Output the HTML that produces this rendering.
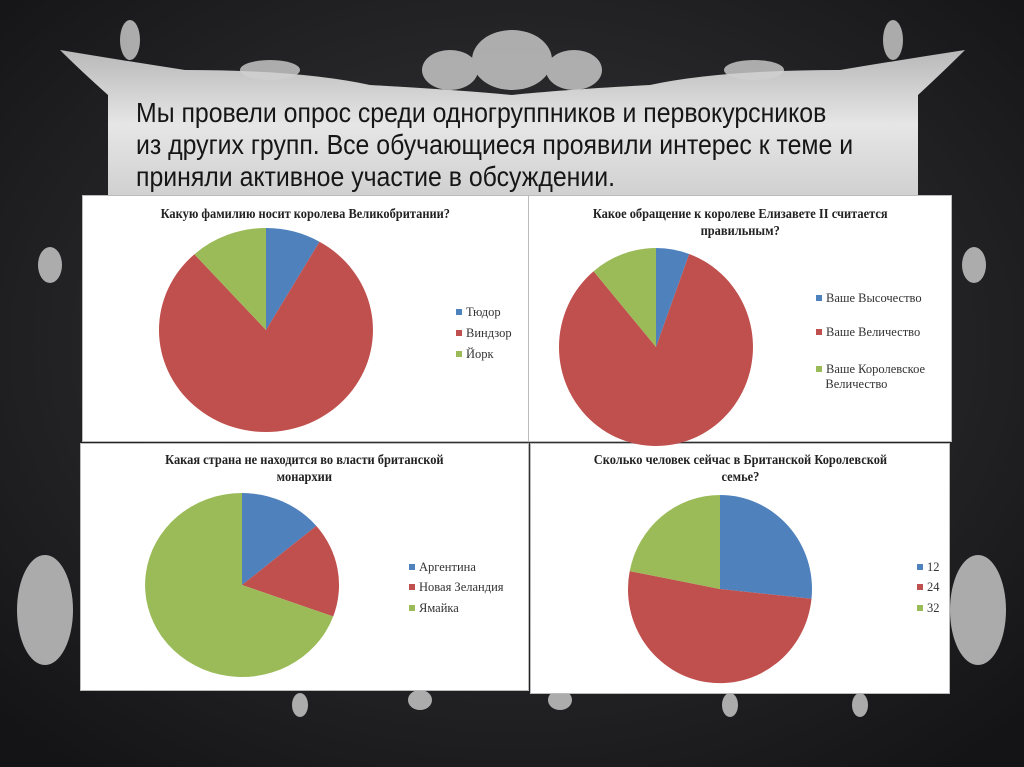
<!DOCTYPE html>
<html><head><meta charset="utf-8"><style>
html,body{margin:0;padding:0;}
body{width:1024px;height:767px;overflow:hidden;background:#1c1c1e;position:relative;font-family:"Liberation Serif",serif;}
.bg{position:absolute;left:0;top:0;}
.txt{position:absolute;left:136px;top:97px;font-family:"Liberation Sans",sans-serif;font-size:28px;line-height:32px;color:#161616;white-space:nowrap;transform:scaleX(0.887);transform-origin:0 0;}
.panel{position:absolute;background:#fff;border:1px solid #bbb;box-sizing:border-box;}
.title{position:absolute;left:0;right:0;text-align:center;font-weight:bold;font-size:13.5px;line-height:17px;color:#222;}
.title span{display:inline-block;transform:scaleX(0.92);}
.leg{position:absolute;font-size:12.5px;color:#333;line-height:15px;}
.leg i{display:inline-block;width:6px;height:6px;margin-right:4px;vertical-align:1px;}
</style></head><body>
<svg class="bg" width="1024" height="767">
<defs>
<radialGradient id="bgg" cx="50%" cy="45%" r="70%"><stop offset="0" stop-color="#3a3a3e"/><stop offset="1" stop-color="#141416"/></radialGradient>
<linearGradient id="fr" x1="0" y1="0" x2="0" y2="1"><stop offset="0" stop-color="#b8b8b8"/><stop offset="0.5" stop-color="#e6e6e6"/><stop offset="1" stop-color="#cfcfcf"/></linearGradient>
</defs>
<rect width="1024" height="767" fill="url(#bgg)"/>
<path d="M60 50 Q80 70 108 95 L108 200 L918 200 L918 95 Q945 70 965 50 Q900 60 840 70 Q720 70 650 85 Q560 90 512 95 Q460 90 370 85 Q300 70 185 70 Q120 60 60 50 Z" fill="url(#fr)"/>
<g fill="#d0d0d0" opacity="0.8">
<ellipse cx="512" cy="60" rx="40" ry="30"/><ellipse cx="450" cy="70" rx="28" ry="20"/><ellipse cx="574" cy="70" rx="28" ry="20"/>
<ellipse cx="270" cy="70" rx="30" ry="10"/><ellipse cx="754" cy="70" rx="30" ry="10"/>
<ellipse cx="130" cy="40" rx="10" ry="20"/><ellipse cx="893" cy="40" rx="10" ry="20"/>
<ellipse cx="45" cy="610" rx="28" ry="55"/><ellipse cx="978" cy="610" rx="28" ry="55"/>
<ellipse cx="50" cy="265" rx="12" ry="18"/><ellipse cx="974" cy="265" rx="12" ry="18"/>
<ellipse cx="300" cy="705" rx="8" ry="12"/><ellipse cx="420" cy="700" rx="12" ry="10"/><ellipse cx="560" cy="700" rx="12" ry="10"/><ellipse cx="730" cy="705" rx="8" ry="12"/><ellipse cx="860" cy="705" rx="8" ry="12"/>
</g>
</svg>
<div class="txt">Мы провели опрос среди одногруппников и первокурсников<br>из других групп. Все обучающиеся проявили интерес к теме и<br>приняли активное участие в обсуждении.</div>

<div class="panel" style="left:82px;top:195px;width:447px;height:247px;">
<div class="title" style="top:9px;"><span>Какую фамилию носит королева Великобритании?</span></div>
<div class="leg" style="left:373px;top:109px;"><i style="background:#4f81bd"></i>Тюдор</div>
<div class="leg" style="left:373px;top:130px;"><i style="background:#c0504d"></i>Виндзор</div>
<div class="leg" style="left:373px;top:151px;"><i style="background:#9bbb59"></i>Йорк</div>
</div>
<div class="panel" style="left:528px;top:195px;width:424px;height:247px;">
<div class="title" style="top:9px;"><span>Какое обращение к королеве Елизавете II считается<br>правильным?</span></div>
<div class="leg" style="left:287px;top:95px;"><i style="background:#4f81bd"></i>Ваше Высочество</div>
<div class="leg" style="left:287px;top:129px;"><i style="background:#c0504d"></i>Ваше Величество</div>
<div class="leg" style="left:287px;top:166px;"><i style="background:#9bbb59"></i>Ваше Королевское<br>&nbsp;&nbsp;&nbsp;Величество</div>
</div>
<div class="panel" style="left:80px;top:443px;width:449px;height:248px;">
<div class="title" style="top:7px;"><span>Какая страна не находится во власти британской<br>монархии</span></div>
<div class="leg" style="left:328px;top:116px;"><i style="background:#4f81bd"></i>Аргентина</div>
<div class="leg" style="left:328px;top:136px;"><i style="background:#c0504d"></i>Новая Зеландия</div>
<div class="leg" style="left:328px;top:157px;"><i style="background:#9bbb59"></i>Ямайка</div>
</div>
<div class="panel" style="left:530px;top:443px;width:420px;height:251px;">
<div class="title" style="top:7px;"><span>Сколько человек сейчас в Британской Королевской<br>семье?</span></div>
<div class="leg" style="left:386px;top:116px;"><i style="background:#4f81bd"></i>12</div>
<div class="leg" style="left:386px;top:136px;"><i style="background:#c0504d"></i>24</div>
<div class="leg" style="left:386px;top:157px;"><i style="background:#9bbb59"></i>32</div>
</div>

<svg class="bg" width="1024" height="767" id="pies"></svg>
<script>
var s=document.getElementById('pies'),C=['#4f81bd','#c0504d','#9bbb59'];
function pie(cx,cy,rx,ry,a){var st=0;a.forEach(function(e,i){
 var p=function(d){var r=d*Math.PI/180;return (cx+rx*Math.sin(r)).toFixed(1)+' '+(cy-ry*Math.cos(r)).toFixed(1);};
 var path=document.createElementNS('http://www.w3.org/2000/svg','path');
 path.setAttribute('d','M'+cx+' '+cy+' L'+p(st)+' A'+rx+' '+ry+' 0 '+((e-st)>180?1:0)+' 1 '+p(e)+' Z');
 path.setAttribute('fill',C[i]);s.appendChild(path);st=e;});}
pie(266,330,107,102,[30,318,360]);
pie(656,347,97,99,[20,320,360]);
pie(242,585,97,92,[50,110,360]);
pie(720,589,92,94,[96,281,360]);
</script>
</body></html>
